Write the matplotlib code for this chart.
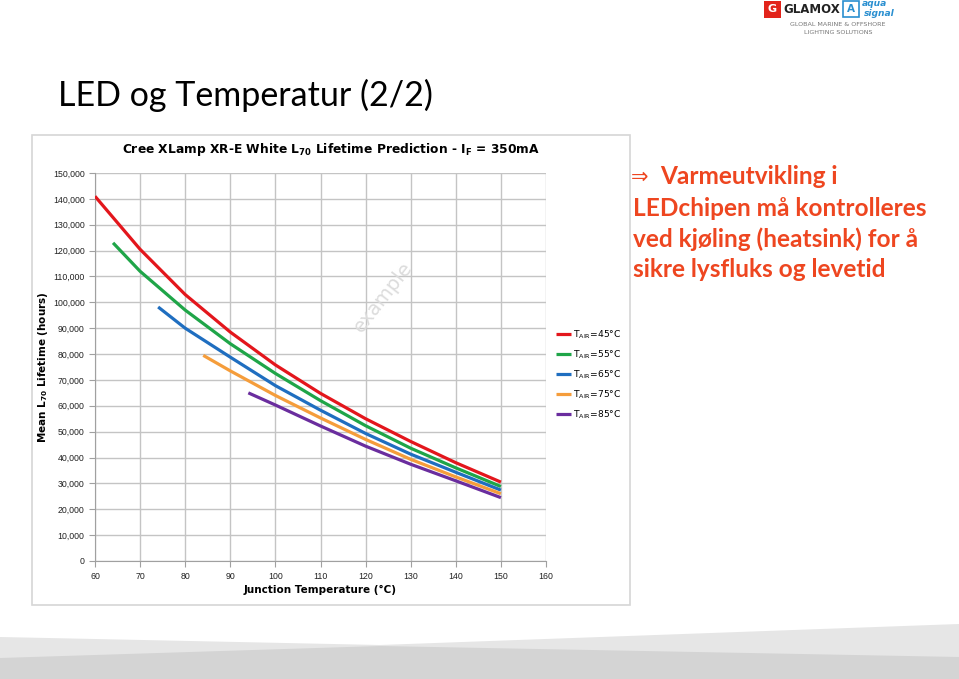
import matplotlib.pyplot as plt
from matplotlib.patches import Rectangle, Polygon
from matplotlib.ticker import FuncFormatter

# Data (junction temperature in °C, L70 lifetime in hours)
temp_45 = [60, 70, 80, 90, 100, 110, 120, 130, 140, 150]
life_45 = [141000, 120500, 103000, 88500, 75800, 64800, 55000, 46200, 38000, 30500]
temp_55 = [64, 70, 80, 90, 100, 110, 120, 130, 140, 150]
life_55 = [123000, 112000, 97000, 84000, 72500, 62000, 52300, 43600, 36000, 28800]
temp_65 = [74, 80, 90, 100, 110, 120, 130, 140, 150]
life_65 = [98200, 90000, 78800, 67800, 58300, 49300, 41300, 34300, 27400]
temp_75 = [84, 90, 100, 110, 120, 130, 140, 150]
life_75 = [79500, 73500, 64000, 55300, 47000, 39300, 32500, 26000]
temp_85 = [94, 100, 110, 120, 130, 140, 150]
life_85 = [65000, 60300, 52200, 44400, 37400, 31000, 24500]

air_temps = ["45°C", "55°C", "65°C", "75°C", "85°C"]
colors = ["#e3161c", "#1fa548", "#1f6ec0", "#f59d3b", "#6a2d9e"]

W, H = 959, 679


def fx(x):
    return x / W


def fy(y):
    return 1 - y / H


fig = plt.figure(figsize=(W / 100, H / 100), dpi=100)
fig.patch.set_facecolor("white")

# bottom grey wave band
fig.add_artist(Polygon([(fx(0), fy(637)), (fx(380), fy(645)), (fx(959), fy(624)),
                        (fx(959), 0), (0, 0)], closed=True, transform=fig.transFigure,
                       facecolor="#e6e6e6", edgecolor="none", zorder=0))
fig.add_artist(Polygon([(fx(0), fy(658)), (fx(380), fy(646)), (fx(959), fy(657)),
                        (fx(959), 0), (0, 0)], closed=True, transform=fig.transFigure,
                       facecolor="#d4d4d4", edgecolor="none", zorder=0))

# chart panel frame
fig.add_artist(Rectangle((fx(32), fy(605)), fx(630) - fx(32), fy(135) - fy(605),
                         transform=fig.transFigure, facecolor="white",
                         edgecolor="#d6d6d6", linewidth=1.2, zorder=0))

# slide title
fig.text(fx(58), fy(95), "LED og Temperatur (2/2)", family="Lato", fontsize=24.5,
         ha="left", va="center", color="black")

# logo
fig.add_artist(Rectangle((fx(764), fy(18)), fx(17), fy(1) - fy(18),
                         transform=fig.transFigure, facecolor="#e2241b", edgecolor="none"))
fig.text(fx(772.5), fy(9.5), "G", color="white", fontsize=8, weight="bold",
         ha="center", va="center")
fig.text(fx(783), fy(9.5), "GLAMOX", color="#222222", fontsize=8.5, weight="bold",
         ha="left", va="center")
fig.add_artist(Rectangle((fx(843), fy(17)), fx(16), fy(1) - fy(17),
                         transform=fig.transFigure, facecolor="white",
                         edgecolor="#2a8fd0", linewidth=1.2))
fig.text(fx(851), fy(9), "A", color="#2a8fd0", fontsize=7.5, weight="bold",
         ha="center", va="center")
fig.text(fx(862), fy(4), "aqua", color="#2a8fd0", fontsize=6.6, weight="bold",
         style="italic", ha="left", va="center")
fig.text(fx(864), fy(14), "signal", color="#2a8fd0", fontsize=6.6, weight="bold",
         style="italic", ha="left", va="center")
fig.text(fx(838), fy(24), "GLOBAL MARINE & OFFSHORE", color="#777777", fontsize=4.6,
         ha="center", va="center")
fig.text(fx(838), fy(33), "LIGHTING SOLUTIONS", color="#777777", fontsize=4.6,
         ha="center", va="center")

# right-hand bullet text
txt_color = "#ee4620"
fig.text(fx(631), fy(177), "⇒", family=["DejaVu Sans"], fontsize=15, color=txt_color,
         ha="left", va="center")
fig.text(fx(660), fy(177), "Varmeutvikling i", family=["Lato", "DejaVu Sans"],
         fontsize=17.6, weight="bold", color=txt_color, ha="left", va="center")
for y, line in [(208, "LEDchipen må kontrolleres"),
                (239, "ved kjøling (heatsink) for å"),
                (270, "sikre lysfluks og levetid")]:
    fig.text(fx(633), fy(y), line, family=["Lato", "DejaVu Sans"], fontsize=17.6,
             weight="bold", color=txt_color, ha="left", va="center")

# chart
ax = fig.add_axes([fx(95), fy(561), fx(546) - fx(95), fy(173) - fy(561)])
series = [(temp_45, life_45), (temp_55, life_55), (temp_65, life_65),
          (temp_75, life_75), (temp_85, life_85)]
for (t, l), c, a in zip(series, colors, air_temps):
    ax.plot(t, l, color=c, linewidth=2.3, solid_capstyle="butt",
            label=r"T$_{\mathrm{AIR}}$=" + a, zorder=3)

ax.set_xlim(60, 160)
ax.set_ylim(0, 150000)
ax.set_xticks(range(60, 161, 10))
ax.set_yticks(range(0, 150001, 10000))
ax.yaxis.set_major_formatter(FuncFormatter(lambda v, p: f"{int(v):,}"))
ax.grid(True, color="#c4c4c4", linewidth=1)
ax.set_axisbelow(True)
for s in ["top", "right"]:
    ax.spines[s].set_visible(False)
for s in ["left", "bottom"]:
    ax.spines[s].set_color("#a0a0a0")
ax.tick_params(axis="both", colors="#a0a0a0", labelcolor="#222222", labelsize=6.3,
               length=4, direction="out")
ax.tick_params(axis="x", pad=4)
for lab in ax.get_xticklabels() + ax.get_yticklabels():
    lab.set_family("Liberation Sans")

fig.text(fx(331), fy(149),
         r"Cree XLamp XR-E White L$_{\mathbf{70}}$ Lifetime Prediction - I$_{\mathbf{F}}$ = 350mA",
         fontsize=8.8, weight="bold", ha="center", va="center")
ax.set_xlabel("Junction Temperature (°C)", fontsize=7.5, weight="bold", labelpad=3)
ax.set_ylabel(r"Mean L$_{\mathbf{70}}$ Lifetime (hours)", fontsize=7.5, weight="bold",
              labelpad=2)

ax.text(0.64, 0.68, "example", transform=ax.transAxes, rotation=52, fontsize=14,
        color="#dcdcdc", ha="center", va="center", zorder=2)

ax.legend(loc="upper left", bbox_to_anchor=(fx(552), fy(325)),
          bbox_transform=fig.transFigure, frameon=False, fontsize=6.6,
          handlelength=1.7, handletextpad=0.2, labelspacing=0.8, borderaxespad=0)

plt.savefig("out.png", dpi=100)
